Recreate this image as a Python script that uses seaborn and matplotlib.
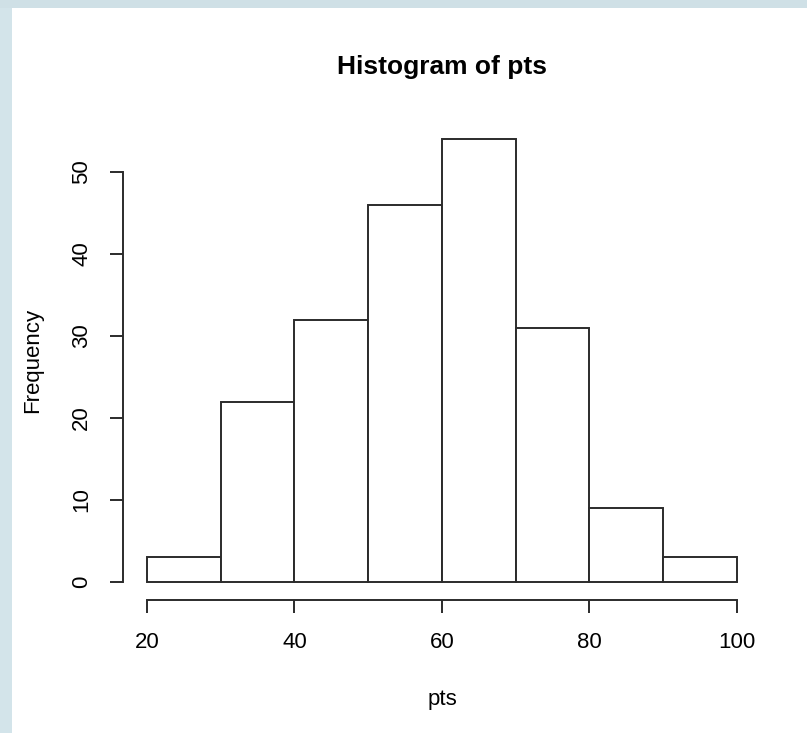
import matplotlib

matplotlib.use("Agg")
import matplotlib.pyplot as plt
import matplotlib.patches as mpatches
import numpy as np
import seaborn as sns

# --- data ---
bin_edges = [20, 30, 40, 50, 60, 70, 80, 90, 100]
counts = [3, 22, 32, 46, 54, 31, 9, 3]
x_ticks = [20, 40, 60, 80, 100]
y_ticks = [0, 10, 20, 30, 40, 50]

sns.set_theme(style="white")
plt.rcParams["font.family"] = ["Liberation Sans", "DejaVu Sans"]
plt.rcParams["text.color"] = "black"

LINE = "#2b2b2b"
LW = 1.4

fig = plt.figure(figsize=(8.07, 7.33), dpi=100)
fig.patch.set_facecolor("white")

# light blue window frame on the left / top edges
fig.patches.append(mpatches.Rectangle((0, 0), 12 / 807, 1, transform=fig.transFigure,
                                      facecolor="#d3e4ea", edgecolor="none", zorder=0))
fig.patches.append(mpatches.Rectangle((0, 1 - 8 / 733), 1, 8 / 733, transform=fig.transFigure,
                                      facecolor="#cfe0e6", edgecolor="none", zorder=0))

ax = fig.add_axes([0.1529, 0.1818, 0.7896, 0.6524])

mids = (np.array(bin_edges[:-1]) + np.array(bin_edges[1:])) / 2
sns.histplot(x=mids, weights=counts, bins=bin_edges, color="white", alpha=1,
             edgecolor=LINE, linewidth=LW, ax=ax)

ax.set_xlim(16.8, 103.2)
ax.set_ylim(-2.16, 56.16)

for side in ["top", "right"]:
    ax.spines[side].set_visible(False)
ax.spines["bottom"].set_bounds(20, 100)
ax.spines["left"].set_bounds(0, 50)
for side in ["bottom", "left"]:
    ax.spines[side].set_color(LINE)
    ax.spines[side].set_linewidth(LW)

ax.set_xticks(x_ticks)
ax.set_yticks(y_ticks)
ax.set_yticklabels([str(v) for v in y_ticks], rotation=90, va="center")
ax.tick_params(axis="both", direction="out", length=9.4, width=LW, color=LINE,
               labelsize=16, labelcolor="black", bottom=True, left=True)
ax.tick_params(axis="x", pad=14)
ax.tick_params(axis="y", pad=13)

ax.set_title("Histogram of pts", fontsize=19, fontweight="bold", pad=34, color="black")
ax.set_xlabel("pts", fontsize=16, color="black")
ax.set_ylabel("Frequency", fontsize=16, color="black")
ax.xaxis.set_label_coords(0.5, -0.187)
ax.yaxis.set_label_coords(-0.126, 0.5)

fig.savefig("out.png", dpi=100)
